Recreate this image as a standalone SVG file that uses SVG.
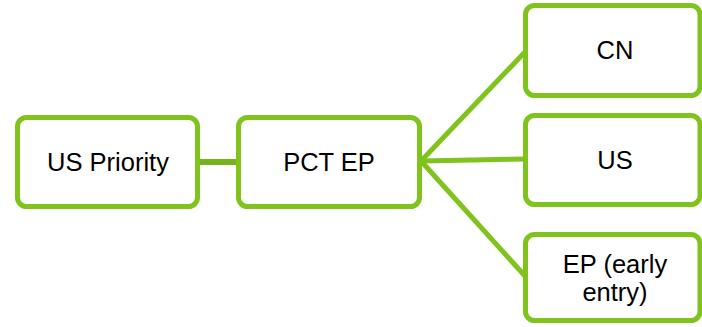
<svg xmlns="http://www.w3.org/2000/svg" width="702" height="327" viewBox="0 0 702 327">
  <style>
    .box { fill: #ffffff; stroke: #7fc31c; stroke-width: 5; }
    .label { font-family: "Liberation Sans", Arial, sans-serif; font-size: 25.5px; fill: #000000; text-anchor: middle; }
    .link { stroke: #7fc31c; stroke-width: 5; fill: none; }
    .link-main { stroke: #74b41a; stroke-width: 6; fill: none; }
  </style>
  <rect width="702" height="327" fill="#ffffff"/>
  <g id="connectors">
    <line class="link-main" x1="198" y1="162" x2="238" y2="162"/>
    <line class="link" x1="421" y1="161" x2="525" y2="52"/>
    <line class="link" x1="421" y1="161" x2="525" y2="159"/>
    <line class="link" x1="421" y1="161" x2="525" y2="276"/>
  </g>
  <g id="us-priority">
    <rect class="box" x="17.5" y="117.5" width="180" height="89" rx="9"/>
    <text class="label" x="108" y="171">US Priority</text>
  </g>
  <g id="pct-ep">
    <rect class="box" x="238.5" y="117.5" width="181" height="89" rx="9"/>
    <text class="label" x="329" y="171">PCT EP</text>
  </g>
  <g id="cn">
    <rect class="box" x="525.5" y="5.5" width="174.5" height="90" rx="9"/>
    <text class="label" x="615" y="59">CN</text>
  </g>
  <g id="us">
    <rect class="box" x="525.5" y="115.5" width="174.5" height="89" rx="9"/>
    <text class="label" x="615" y="169">US</text>
  </g>
  <g id="ep-early">
    <rect class="box" x="525.5" y="234.5" width="174.5" height="86" rx="9"/>
    <text class="label" x="615" y="273">EP (early</text>
    <text class="label" x="615" y="301">entry)</text>
  </g>
</svg>
